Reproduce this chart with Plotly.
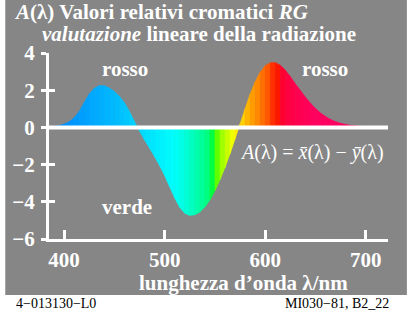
import plotly.graph_objects as go

# Wavelength grid (nm) and relative chromatic RG values A(λ)
wavelength = [385, 390, 395, 400, 405, 410, 415, 420, 425, 430, 435, 440, 445, 450,
              455, 460, 465, 470, 475, 480, 485, 490, 495, 500, 505, 510, 515, 520,
              525, 530, 535, 540, 545, 550, 555, 560, 565, 570, 575, 580, 585, 590,
              595, 600, 605, 610, 615, 620, 625, 630, 635, 640, 645, 650, 655, 660,
              665, 670, 675, 680, 685, 690, 695, 700, 705, 710, 715, 720]
a_values = [0.04, 0.06, 0.10, 0.18, 0.30, 0.52, 0.86, 1.34, 1.80, 2.10, 2.25, 2.24, 2.12, 1.93,
            1.68, 1.33, 0.86, 0.32, -0.20, -0.68, -1.12, -1.58, -2.06, -2.60, -3.20, -3.80, -4.30, -4.62,
            -4.73, -4.70, -4.55, -4.28, -3.90, -3.40, -2.82, -2.16, -1.42, -0.62, 0.20, 1.02, 1.80, 2.46,
            2.98, 3.32, 3.48, 3.48, 3.34, 3.07, 2.72, 2.34, 1.98, 1.62, 1.30, 1.01, 0.77, 0.58,
            0.42, 0.31, 0.22, 0.16, 0.11, 0.08, 0.05, 0.04, 0.03, 0.02, 0.01, 0.01]

# Spectral colour of each 5 nm strip (starting wavelength of the strip)
strip_colors = ["#0088ff", "#008cff", "#0090ff", "#0092ff", "#0096ff", "#009aff", "#009eff",
                "#00a2ff", "#00a8ff", "#00acff", "#00b0ff", "#00b4ff", "#00b8ff", "#00bcff",
                "#00c2ff", "#00c8ff", "#00ceff", "#00d4ff", "#00daff", "#00e0ff", "#00e6ff",
                "#00ecff", "#00f2ff", "#00f8ff", "#00fcff", "#00fff4", "#00ffe4", "#00ffd4",
                "#00ffc0", "#00ffac", "#00ff98", "#00ff80", "#00ff40", "#60ff00", "#a0ff00",
                "#c8ff00", "#f0ff00", "#ffec00", "#ffd000", "#ffb400", "#ff9c00", "#ff8800",
                "#ff7000", "#ff5800", "#ff3000", "#ff1800", "#ff0030", "#ff0040", "#ff0048",
                "#ff0050", "#ff0054", "#ff0058", "#ff005c", "#ff005e", "#ff0060", "#ff0060",
                "#ff0060", "#ff0060", "#ff0060", "#ff0060", "#ff0060", "#ff0060", "#ff0060",
                "#ff0060", "#ff0060", "#ff0060", "#ff0060"]

y_ticks = [-6, -4, -2, 0, 2, 4]
x_ticks = [400, 500, 600, 700]

GRAY = "#868686"
SERIF = "Liberation Serif"

fig = go.Figure()

# Coloured strips between the curve and zero
for i in range(len(wavelength) - 1):
    x0, x1 = wavelength[i], wavelength[i + 1]
    y0, y1 = a_values[i], a_values[i + 1]
    c = strip_colors[i]
    fig.add_trace(go.Scatter(
        x=[x0, x0, x1, x1, x0], y=[0, y0, y1, 0, 0],
        mode="lines", fill="toself", fillcolor=c,
        line=dict(color=c, width=0.6),
        hoverinfo="skip", showlegend=False))

# Helper trace for the inner y ticks
fig.add_trace(go.Scatter(x=[wavelength[0]], y=[0], yaxis="y2", mode="markers",
                         marker=dict(opacity=0), hoverinfo="skip", showlegend=False))

# Zero line above the fill
fig.add_shape(type="line", xref="paper", x0=0, x1=1, yref="y", y0=0, y1=0,
              line=dict(color="white", width=4), layer="above")

# White surrounds outside the gray panel
for x0, x1, y0, y1 in [(-0.2, 1.2, -0.60, -0.301), (-0.2, -0.129, -0.6, 1.4),
                       (1.0557, 1.2, -0.6, 1.4)]:
    fig.add_shape(type="rect", xref="paper", yref="paper", x0=x0, x1=x1, y0=y0, y1=y1,
                  fillcolor="white", line=dict(width=0), layer="above")

fig.update_layout(
    width=413, height=323,
    margin=dict(l=47, r=25, t=53, b=84),
    paper_bgcolor=GRAY, plot_bgcolor=GRAY,
    font=dict(family=SERIF, color="white"),
    xaxis=dict(range=[385, 722], showgrid=False, zeroline=False,
               showline=True, linecolor="white", linewidth=3,
               ticks="inside", ticklen=9, tickwidth=3, tickcolor="white",
               tickvals=x_ticks, ticktext=[f"<b>{v}</b>" for v in x_ticks],
               tickfont=dict(size=21, family=SERIF, color="white")),
    yaxis=dict(range=[-6, 4], showgrid=False, zeroline=False,
               showline=True, linecolor="white", linewidth=3,
               ticks="outside", ticklen=5, tickwidth=3, tickcolor="white",
               tickvals=y_ticks,
               ticktext=[f"<b>{'−' if v < 0 else ''}{abs(v)}</b>" for v in y_ticks],
               tickfont=dict(size=21, family=SERIF, color="white"),
               ticklabelstandoff=2),
    yaxis2=dict(range=[-6, 4], overlaying="y", side="left", showgrid=False,
                zeroline=False, showline=False, ticks="inside", ticklen=6,
                tickwidth=3, tickcolor="white", tickvals=y_ticks, showticklabels=False),
)

def px_x(p):
    return (p - 47) / 341

def px_y(p):
    return (239 - p) / 186

annots = [
    ("<b><i>A</i>(λ) Valori relativi cromatici <i>RG</i></b>", 10, 12, "left", 21, "white"),
    ("<b><i>valutazione</i> lineare della radiazione</b>", 38, 34, "left", 21, "white"),
    ("<b>lunghezza d’onda λ/nm</b>", 243, 283, "center", 21, "white"),
    ("<b>rosso</b>", 123, 69, "center", 21, "white"),
    ("<b>rosso</b>", 325, 69, "center", 21, "white"),
    ("<b>verde</b>", 125, 207, "center", 21, "white"),
    ("<i>A</i>(λ) = <i>x̄</i>(λ) − <i>ȳ</i>(λ)", 386, 152, "right", 20, "white"),
    ("4−013130−L0", 12, 303, "left", 14, "black"),
    ("MI030−81, B2_22", 391, 303, "right", 14, "black"),
]
for text, x, y, anchor, size, color in annots:
    fig.add_annotation(text=text, xref="paper", yref="paper", x=px_x(x), y=px_y(y),
                       xanchor=anchor, yanchor="middle", showarrow=False,
                       font=dict(size=size, family=SERIF, color=color))

fig.write_html("out.html")
